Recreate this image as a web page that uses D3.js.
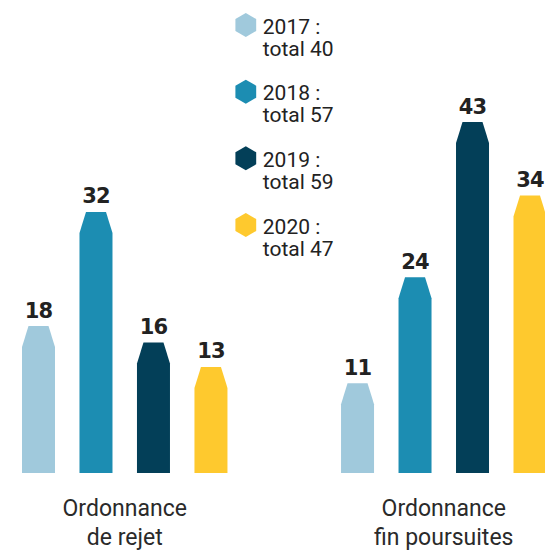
<!DOCTYPE html>
<html>
<head>
<meta charset="utf-8">
<script src="https://cdn.jsdelivr.net/npm/d3@7"></script>
<style>
  html, body { margin: 0; padding: 0; background: #fff; }
  svg { display: block; }
</style>
</head>
<body>
<svg id="chart" width="545" height="551"></svg>
<script>
// Ordonnances by year
const categories = ["Ordonnance\nde rejet", "Ordonnance\nfin poursuites"];
const years = ["2017", "2018", "2019", "2020"];
const totals = [40, 57, 59, 47];
const valuesRejet = [18, 32, 16, 13];
const valuesFinPoursuites = [11, 24, 43, 34];
const yearColors = ["#a0c9dc", "#1c8db2", "#033f58", "#fec92e"];

const series = [valuesRejet, valuesFinPoursuites];

const svg = d3.select("#chart");
const baseY = 473;

const x0 = d3.scaleBand()
  .domain(categories)
  .range([22, 546.5])
  .paddingInner(0.356)
  .paddingOuter(0);

const x1 = d3.scaleBand()
  .domain(years)
  .range([0, x0.bandwidth()])
  .paddingInner(0.426)
  .paddingOuter(0);

const y = d3.scaleLinear()
  .domain([0, 50])
  .range([baseY, baseY - 50 * 8.16]);

const color = d3.scaleOrdinal().domain(years).range(yearColors);

// Bar with chamfered top
function barPath(x, w, top, bottom) {
  const inset = 6.5, ch = 21;
  return `M${x},${bottom} L${x},${top + ch} L${x + inset},${top} L${x + w - inset},${top} L${x + w},${top + ch} L${x + w},${bottom} Z`;
}

const groups = svg.selectAll("g.group")
  .data(categories.map((c, i) => ({ cat: c, vals: series[i] })))
  .join("g")
  .attr("class", "group")
  .attr("transform", d => `translate(${x0(d.cat)},0)`);

groups.selectAll("path.bar")
  .data(d => d.vals.map((v, j) => ({ year: years[j], v })))
  .join("path")
  .attr("class", "bar")
  .attr("fill", d => color(d.year))
  .attr("d", d => barPath(x1(d.year), x1.bandwidth(), y(d.v), baseY));

groups.selectAll("text.val")
  .data(d => d.vals.map((v, j) => ({ year: years[j], v })))
  .join("text")
  .attr("class", "val")
  .attr("x", d => x1(d.year) + x1.bandwidth() / 2)
  .attr("y", d => y(d.v) - 8.5)
  .attr("text-anchor", "middle")
  .attr("font-family", "'DejaVu Sans', sans-serif")
  .attr("font-weight", "bold")
  .attr("font-size", 21)
  .attr("letter-spacing", -0.8)
  .attr("fill", "#222")
  .text(d => d.v);

// Category labels under each group
groups.each(function(d) {
  const lines = d.cat.split("\n");
  const t = d3.select(this).append("text")
    .attr("text-anchor", "middle")
    .attr("font-family", "Roboto, sans-serif")
    .attr("font-size", 23)
    .attr("fill", "#2a2a2a");
  lines.forEach((line, k) => {
    t.append("tspan")
      .attr("x", x0.bandwidth() / 2)
      .attr("y", 516 + k * 28.5)
      .text(line);
  });
});

// Legend with hexagon markers
const legendY = d3.scaleLinear().domain([0, 3]).range([25, 225]);
const hex = d3.range(6).map(i => {
  const a = Math.PI / 3 * i - Math.PI / 2;
  return [12 * Math.cos(a), 12 * Math.sin(a)];
});

const legend = svg.selectAll("g.legend")
  .data(years.map((yr, i) => ({ yr, total: totals[i], i })))
  .join("g")
  .attr("class", "legend")
  .attr("transform", d => `translate(245.8,${legendY(d.i)})`);

legend.append("polygon")
  .attr("points", hex.map(p => p.join(",")).join(" "))
  .attr("fill", d => color(d.yr));

const lt = legend.append("text")
  .attr("font-family", "Roboto, sans-serif")
  .attr("font-size", 21)
  .attr("fill", "#222");
lt.append("tspan").attr("x", 17).attr("y", 8.5).text(d => `${d.yr} :`);
lt.append("tspan").attr("x", 17).attr("y", 30.5).text(d => `total ${d.total}`);
</script>
</body>
</html>
